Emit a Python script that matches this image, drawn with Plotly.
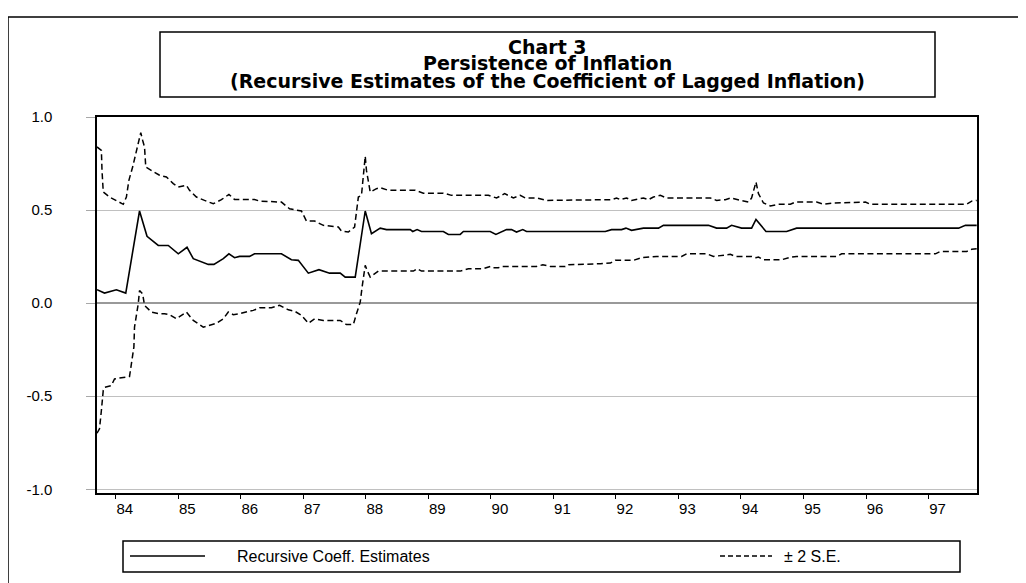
import plotly.graph_objects as go

# ---------------- data ----------------
coef_x = [83.70, 83.82, 84.01, 84.16, 84.38, 84.50, 84.68, 84.84, 85.00, 85.14, 85.24, 85.48,
          85.57, 85.72, 85.81, 85.90, 85.98, 86.14, 86.22, 86.65, 86.81, 86.92, 87.08, 87.25,
          87.42, 87.59, 87.67, 87.83, 87.99, 88.09, 88.23, 88.33, 88.71, 88.75, 88.82, 88.89,
          89.24, 89.32, 89.51, 89.56, 89.99, 90.08, 90.25, 90.33, 90.41, 90.51, 90.57, 91.83,
          91.93, 92.09, 92.16, 92.25, 92.44, 92.68, 92.76, 93.48, 93.61, 93.77, 93.85, 93.93,
          94.01, 94.17, 94.24, 94.40, 94.73, 94.89, 97.48, 97.59, 97.77]
coef_y = [0.072, 0.054, 0.072, 0.054, 0.495, 0.359, 0.310, 0.310, 0.265, 0.300, 0.239, 0.208,
          0.208, 0.239, 0.265, 0.244, 0.251, 0.251, 0.265, 0.265, 0.233, 0.230, 0.161, 0.180,
          0.161, 0.161, 0.140, 0.140, 0.495, 0.373, 0.403, 0.395, 0.395, 0.385, 0.395, 0.385,
          0.385, 0.369, 0.369, 0.385, 0.385, 0.369, 0.395, 0.395, 0.382, 0.395, 0.385, 0.385,
          0.395, 0.395, 0.403, 0.391, 0.403, 0.403, 0.418, 0.418, 0.403, 0.403, 0.418, 0.412,
          0.403, 0.403, 0.450, 0.385, 0.385, 0.403, 0.403, 0.418, 0.418]

upper_x = [83.70, 83.77, 83.78, 83.80, 83.90, 84.04, 84.12, 84.17, 84.21, 84.27, 84.33, 84.40,
           84.43, 84.46, 84.48, 84.57, 84.70, 84.81, 84.92, 85.00, 85.13, 85.18, 85.29, 85.42,
           85.56, 85.69, 85.81, 85.90, 86.22, 86.30, 86.65, 86.78, 86.97, 87.05, 87.18, 87.32,
           87.56, 87.61, 87.72, 87.82, 87.88, 87.93, 87.99, 88.01, 88.07, 88.17, 88.23, 88.36,
           88.79, 88.92, 89.24, 89.37, 89.96, 90.09, 90.22, 90.36, 90.47, 90.55, 90.73, 90.89,
           91.93, 92.01, 92.07, 92.17, 92.25, 92.44, 92.52, 92.60, 92.71, 92.81, 93.51, 93.61,
           93.75, 93.83, 93.93, 94.04, 94.12, 94.17, 94.24, 94.28, 94.36, 94.47, 94.60, 94.79,
           94.87, 95.21, 95.32, 95.48, 95.99, 96.07, 97.61, 97.69, 97.77]
upper_y = [0.839, 0.821, 0.713, 0.597, 0.570, 0.543, 0.531, 0.570, 0.660, 0.731, 0.821, 0.916,
           0.875, 0.839, 0.731, 0.713, 0.687, 0.678, 0.642, 0.624, 0.633, 0.606, 0.570, 0.552,
           0.534, 0.556, 0.584, 0.557, 0.557, 0.548, 0.543, 0.507, 0.495, 0.441, 0.441, 0.418,
           0.409, 0.387, 0.382, 0.409, 0.570, 0.579, 0.789, 0.713, 0.597, 0.615, 0.620, 0.606,
           0.606, 0.591, 0.591, 0.579, 0.579, 0.565, 0.588, 0.565, 0.579, 0.565, 0.565, 0.552,
           0.556, 0.565, 0.556, 0.565, 0.552, 0.565, 0.556, 0.570, 0.579, 0.565, 0.565, 0.552,
           0.556, 0.565, 0.556, 0.548, 0.543, 0.565, 0.651, 0.588, 0.538, 0.522, 0.531, 0.531,
           0.543, 0.543, 0.531, 0.538, 0.543, 0.531, 0.531, 0.548, 0.552]

lower_x = [83.70, 83.74, 83.77, 83.80, 83.82, 83.93, 83.98, 84.22, 84.25, 84.29, 84.30, 84.36,
           84.38, 84.43, 84.46, 84.57, 84.70, 84.78, 84.86, 84.97, 85.13, 85.24, 85.40, 85.48,
           85.61, 85.72, 85.80, 85.88, 85.98, 86.14, 86.20, 86.30, 86.49, 86.62, 86.76, 86.86,
           86.97, 87.08, 87.18, 87.32, 87.59, 87.69, 87.80, 87.85, 87.91, 87.94, 87.99, 88.02,
           88.07, 88.20, 88.76, 88.82, 88.89, 89.51, 89.64, 89.88, 89.99, 90.04, 90.12, 90.17,
           90.73, 90.83, 90.95, 91.19, 91.24, 91.75, 91.91, 91.99, 92.28, 92.41, 92.65, 93.05,
           93.13, 93.45, 93.56, 93.83, 93.91, 94.17, 94.24, 94.28, 94.36, 94.65, 94.79, 94.89,
           95.53, 95.61, 97.11, 97.19, 97.61, 97.69, 97.77]
lower_y = [-0.699, -0.675, -0.577, -0.469, -0.452, -0.443, -0.407, -0.394, -0.326, -0.236, -0.129, -0.003,
           0.068, 0.050, -0.012, -0.048, -0.057, -0.057, -0.062, -0.084, -0.048, -0.093, -0.129, -0.120,
           -0.108, -0.084, -0.048, -0.062, -0.057, -0.043, -0.039, -0.025, -0.025, -0.012, -0.036, -0.043,
           -0.066, -0.108, -0.084, -0.093, -0.093, -0.115, -0.115, -0.057, 0.005, 0.086, 0.203, 0.176,
           0.140, 0.172, 0.172, 0.185, 0.172, 0.172, 0.185, 0.185, 0.197, 0.190, 0.190, 0.197,
           0.197, 0.206, 0.197, 0.197, 0.206, 0.212, 0.215, 0.230, 0.230, 0.244, 0.251, 0.251,
           0.265, 0.265, 0.251, 0.262, 0.251, 0.251, 0.244, 0.248, 0.233, 0.233, 0.247, 0.251,
           0.251, 0.265, 0.265, 0.278, 0.278, 0.289, 0.292]

year_ticks = list(range(84, 98))
year_labels = [str(y) for y in year_ticks]
y_ticks = [-1.0, -0.5, 0.0, 0.5, 1.0]
y_labels = ["-1.0", "-0.5", "0.0", "0.5", "1.0"]

title_lines = ["Chart 3", "Persistence of Inflation",
               "(Recursive Estimates of the Coefficient of Lagged Inflation)"]
legend_names = ["Recursive Coeff. Estimates", "± 2 S.E."]

# ---------------- figure ----------------
# the page body adds an 8px offset, so the figure is 8px smaller and
# all positions below are given in window pixels (reference coordinates)
OFF = 8
W, H = 1026 - OFF, 583 - OFF
PL, PR, PT, PB = 97, 977, 117, 493          # plot area in window pixels
L, T = PL - OFF, PT - OFF
R, B = W - (PR - OFF), H - (PB - OFF)
pw, ph = PR - PL, PB - PT

def px(x):
    return (x - PL) / pw

def py(y):
    return 1 - (y - PT) / ph

FONT = "Liberation Sans, Arial, sans-serif"
TFONT = "DejaVu Sans, Liberation Sans, Arial, sans-serif"
DASH = "6px,3.5px"

fig = go.Figure()
fig.add_trace(go.Scatter(x=upper_x, y=upper_y, mode="lines",
                         line=dict(color="black", width=1.5, dash=DASH),
                         name=legend_names[1], showlegend=False))
fig.add_trace(go.Scatter(x=lower_x, y=lower_y, mode="lines",
                         line=dict(color="black", width=1.5, dash=DASH),
                         name=legend_names[1], showlegend=False))
fig.add_trace(go.Scatter(x=coef_x, y=coef_y, mode="lines",
                         line=dict(color="black", width=1.6),
                         name=legend_names[0], showlegend=False))

fig.update_layout(
    width=W, height=H,
    margin=dict(l=L, r=R, t=T, b=B),
    paper_bgcolor="white", plot_bgcolor="white",
    font=dict(family=FONT, size=14, color="black"),
    xaxis=dict(range=[83.70, 97.775], tickmode="array", tickvals=year_ticks, ticktext=year_labels,
               ticks="outside", ticklen=4, tickwidth=1, tickcolor="black",
               ticklabelshift=9, ticklabelstandoff=-3, showgrid=False, zeroline=False,
               showline=True, linecolor="black", linewidth=1.5, mirror=True,
               tickfont=dict(family=FONT, size=15)),
    yaxis=dict(range=[-1.02, 1.0], tickmode="array", tickvals=y_ticks, ticktext=y_labels,
               ticks="outside", ticklen=9, tickwidth=1, tickcolor="#a8a8a8",
               ticklabelstandoff=31,
               showgrid=True, gridcolor="#c0c0c0", gridwidth=1,
               zeroline=True, zerolinecolor="#999999", zerolinewidth=1.5,
               showline=True, linecolor="black", linewidth=1.5, mirror=True,
               tickfont=dict(family=FONT, size=15)),
)

shapes = []
# outer frame
shapes.append(dict(type="rect", xref="paper", yref="paper",
                   x0=px(8), x1=px(1021), y0=py(600), y1=py(17),
                   line=dict(color="black", width=1.5)))
# title box
shapes.append(dict(type="rect", xref="paper", yref="paper",
                   x0=px(160), x1=px(935), y0=py(97), y1=py(32),
                   line=dict(color="black", width=1.5)))
# legend box
shapes.append(dict(type="rect", xref="paper", yref="paper",
                   x0=px(123), x1=px(960), y0=py(572), y1=py(541),
                   line=dict(color="black", width=1.5)))
# legend samples
shapes.append(dict(type="line", xref="paper", yref="paper",
                   x0=px(130), x1=px(205), y0=py(556), y1=py(556),
                   line=dict(color="black", width=1.5)))
shapes.append(dict(type="line", xref="paper", yref="paper",
                   x0=px(720), x1=px(772), y0=py(556), y1=py(556),
                   line=dict(color="black", width=1.5, dash="5px,3px")))
fig.update_layout(shapes=shapes)

ann = []
title_y = [47, 63, 81]
for txt, yy in zip(title_lines, title_y):
    ann.append(dict(text="<b>" + txt + "</b>", xref="paper", yref="paper",
                    x=px(547), y=py(yy), xanchor="center", yanchor="middle",
                    showarrow=False, font=dict(family=TFONT, size=19, color="black")))
ann.append(dict(text=legend_names[0], xref="paper", yref="paper", x=px(235), y=py(556),
                xanchor="left", yanchor="middle", showarrow=False,
                font=dict(family=FONT, size=16, color="black")))
ann.append(dict(text=legend_names[1], xref="paper", yref="paper", x=px(782), y=py(556),
                xanchor="left", yanchor="middle", showarrow=False,
                font=dict(family=FONT, size=16, color="black")))
fig.update_layout(annotations=ann)

fig.write_html("out.html")
